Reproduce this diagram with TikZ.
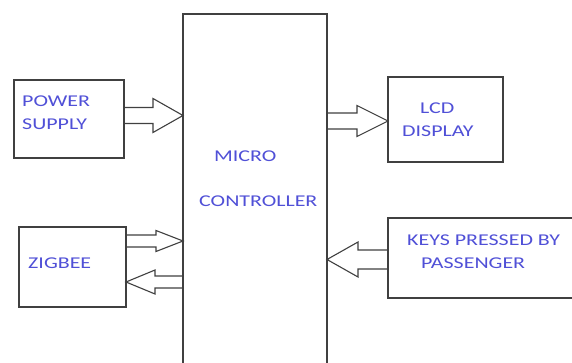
\documentclass[tikz,border=0pt]{standalone}
\usepackage{fontspec}
\usetikzlibrary{calc}
\newfontfamily\lblfont[FakeStretch=1.33]{Carlito}
\definecolor{lblblue}{RGB}{80,80,215}
\definecolor{linegray}{RGB}{64,64,64}
\tikzset{
  box/.style={draw=linegray, line width=1.2pt, rectangle, inner sep=0pt, outer sep=0pt},
  arr/.style={draw=linegray, line width=1.1pt, line join=miter},
  lbl/.style={text=lblblue, inner sep=0pt, anchor=base west, font=\lblfont\fontsize{16.5}{18}\selectfont}
}
% #1 tail anchor, #2 tip anchor, #3 signed head length (towards tail), #4 centre y, #5 shaft half, #6 head half
\newcommand\blockarrow[6]{%
  \draw[arr] let \p1=(#1), \p2=(#2) in
    (\x1,{-(#4-#5)*1pt}) -- ({\x2+(#3)*1pt},{-(#4-#5)*1pt}) -- ({\x2+(#3)*1pt},{-(#4-#6)*1pt})
    -- (\x2,{-(#4)*1pt}) -- ({\x2+(#3)*1pt},{-(#4+#6)*1pt}) -- ({\x2+(#3)*1pt},{-(#4+#5)*1pt})
    -- (\x1,{-(#4+#5)*1pt});%
}
\begin{document}
\begin{tikzpicture}[x=1pt,y=-1pt]
\useasboundingbox (0,0) rectangle (572,363);
\fill[white] (0,0) rectangle (572,363);
% boxes
\node[box, minimum width=144pt, minimum height=362pt] (mc) at (255,195) {};
\node[box, minimum width=110pt, minimum height=78pt] (pw) at (69,119) {};
\node[box, minimum width=107pt, minimum height=80pt] (zb) at (72.5,267) {};
\node[box, minimum width=115pt, minimum height=85pt] (lcd) at (445.5,119.5) {};
\node[box, minimum width=200pt, minimum height=80pt] (keys) at (488,258) {};
% labels
\node[lbl] (t1) at (22,107) {POWER};
\node[lbl] (t2) at (22,130) {SUPPLY};
\node[lbl] (t3) at (28,268) {ZIGBEE};
\node[lbl] (t4) at (420,114) {LCD};
\node[lbl] (t5) at (402,136.5) {DISPLAY};
\node[lbl] (t6) at (407,245) {KEYS PRESSED BY};
\node[lbl] (t7) at (421,268) {PASSENGER};
\node[lbl] (t8) at (214,161.5) {MICRO};
\node[lbl] (t9) at (199,207) {CONTROLLER};
% block arrows
\blockarrow{pw.east}{mc.west}{-30}{115.5}{8}{17}
\blockarrow{zb.east}{mc.west}{-27}{241}{6}{10.5}
\blockarrow{mc.west}{zb.east}{29}{282}{6}{12}
\blockarrow{mc.east}{lcd.west}{-31}{121}{8}{15.5}
\blockarrow{keys.west}{mc.east}{31}{259.5}{9.5}{17.5}
\end{tikzpicture}
\end{document}
